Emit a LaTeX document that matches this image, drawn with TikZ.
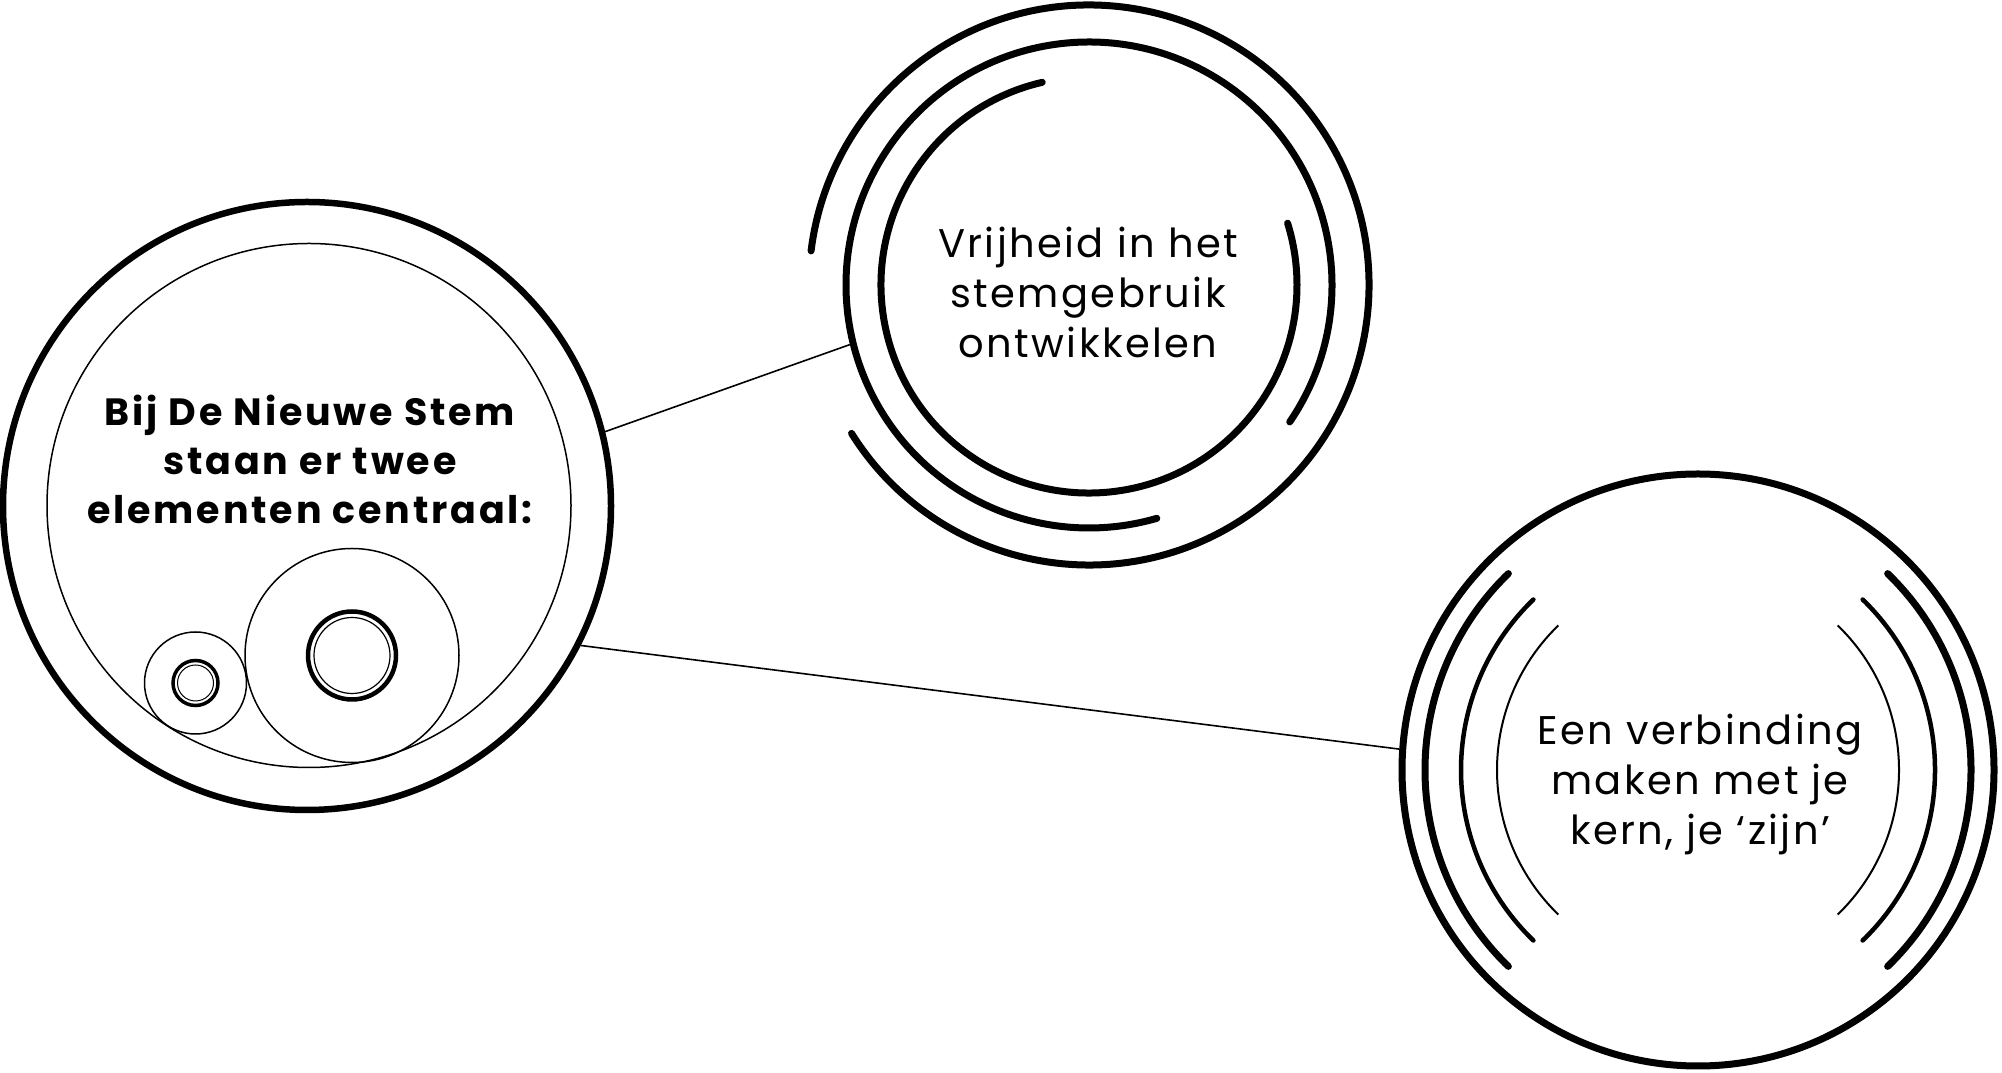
\documentclass[tikz,border=0pt]{standalone}
\usepackage{fontspec}
\setmainfont{Poppins}
\newfontfamily\spacedfont{Poppins}[LetterSpace=6]
\newfontfamily\spacedbold{Poppins}[LetterSpace=7.5]
\tikzset{
  ringthick/.style={draw, circle, line width=6.5pt, inner sep=0pt},
  ringthin/.style={draw, circle, line width=1.5pt, inner sep=0pt},
  arcthick/.style={line width=7pt, line cap=round},
  arcmed/.style={line width=4.5pt, line cap=round},
  arcthin/.style={line width=2pt},
  conn/.style={line width=1.6pt},
  txt/.style={align=center, inner sep=0pt, font=\spacedfont\fontsize{40}{50}\selectfont},
  txtbold/.style={align=center, inner sep=0pt, font=\spacedbold\bfseries\fontsize{38}{49}\selectfont},
}
\begin{document}
\begin{tikzpicture}[x=1pt,y=1pt]
\useasboundingbox (0,0) rectangle (2002,1073);
% ---------- left circle ----------
\node[ringthick, minimum size=608pt] (L) at (307,567) {};
\node[ringthin, minimum size=524pt] (Li) at (309,567.5) {};
\node[ringthin, minimum size=214pt] (Lm) at (352,417.5) {};
\node[draw, circle, line width=4.5pt, minimum size=88pt, inner sep=0pt] (Lm1) at (352,417.5) {};
\node[draw, circle, line width=1.2pt, minimum size=76pt, inner sep=0pt] (Lm2) at (352,417.5) {};
\node[ringthin, minimum size=102pt] (Ls) at (195.5,390) {};
\node[draw, circle, line width=3.5pt, minimum size=45pt, inner sep=0pt] (Ls1) at (195.5,390) {};
\node[draw, circle, line width=1pt, minimum size=36pt, inner sep=0pt] (Ls2) at (195.5,390) {};
\node[txtbold] (tL) at (310,614) {Bij De Nieuwe Stem\\staan er twee\\elementen centraal:};
% ---------- top circle ----------
\node[circle, minimum size=493pt, inner sep=0pt, outer sep=0pt] (T) at (1089,788) {};
\draw[arcthick] (T.center) ++(212:280) arc[start angle=212, end angle=533, radius=280];
\draw[arcthick] (T.center) ++(-34.3:243) arc[start angle=-34.3, end angle=286.2, radius=243];
\draw[arcthick] (T.center) ++(103:208) arc[start angle=103, end angle=377.3, radius=208];
\node[txt] (tT) at (1088,781) {Vrijheid in het\\stemgebruik\\ontwikkelen};
% ---------- right circle ----------
\node[draw, circle, line width=7pt, minimum size=592pt, inner sep=0pt] (R) at (1698,303) {};
\draw[arcthick] (R.center) ++(134:273) arc[start angle=134, end angle=226, radius=273];
\draw[arcthick] (R.center) ++(-46:273) arc[start angle=-46, end angle=46, radius=273];
\draw[arcmed] (R.center) ++(134:237) arc[start angle=134, end angle=226, radius=237];
\draw[arcmed] (R.center) ++(-46:237) arc[start angle=-46, end angle=46, radius=237];
\draw[arcthin] (R.center) ++(134:201) arc[start angle=134, end angle=226, radius=201];
\draw[arcthin] (R.center) ++(-46:201) arc[start angle=-46, end angle=46, radius=201];
\node[txt] (tR) at (1700,289) {Een verbinding\\maken met je\\kern, je ‘zijn’};
% ---------- connectors ----------
\draw[conn] (L.14.4) -- (T.194.6);
\draw[conn] (L.-27.2) -- (R.176.2);
\end{tikzpicture}
\end{document}
